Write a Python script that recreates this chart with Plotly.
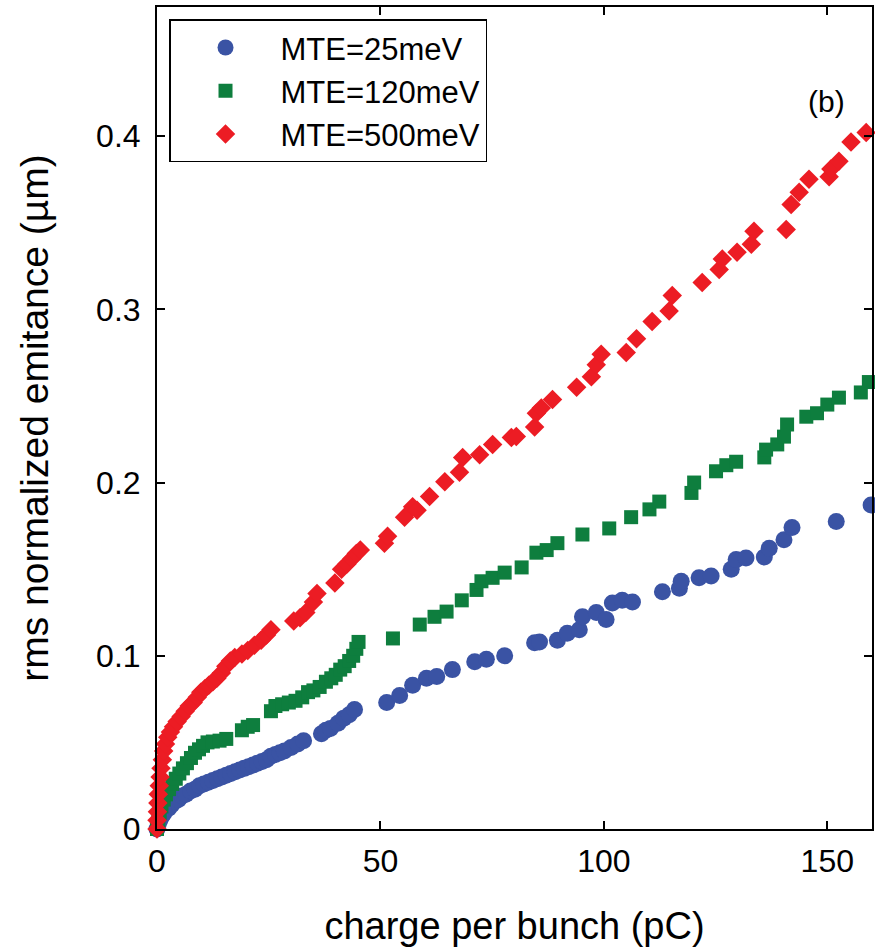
import plotly.graph_objects as go

# ---- data ----
blue_x = [0, 0.3, 0.6, 1.0, 1.5, 2.0, 2.6, 3.3, 4.0, 4.8, 5.6, 6.5, 7.5, 8.5, 9.5, 10.5, 11.5, 12.5, 13.5, 14.5,
          15.5, 16.5, 17.5, 18.5, 19.5, 20.5, 21.5, 22.5, 23.5, 24.5, 25.5, 26.5, 27.5, 28.5, 30.0, 31.5, 32.8,
          36.8, 37.8, 38.8, 40.5, 41.8, 43.0, 44.2, 51.4, 54.3, 57.2, 60.3, 62.6, 66.1, 71.1, 73.7, 77.8, 84.5,
          85.6, 89.6, 91.8, 94.5, 95.2, 98.3, 100.5, 101.9, 104.1, 106.4, 113.1, 116.9, 117.3, 121.3, 124.0,
          128.5, 129.6, 131.8, 135.9, 137.0, 140.3, 142.1, 152.0, 159.8]
blue_y = [0, 0.003, 0.005, 0.007, 0.009, 0.011, 0.012, 0.014, 0.016, 0.017, 0.019, 0.020, 0.022, 0.023, 0.025,
          0.026, 0.027, 0.028, 0.029, 0.030, 0.031, 0.032, 0.033, 0.034, 0.035, 0.036, 0.037, 0.038, 0.039,
          0.040, 0.042, 0.043, 0.044, 0.045, 0.047, 0.049, 0.051, 0.055, 0.057, 0.058, 0.061, 0.064, 0.066,
          0.069, 0.073, 0.077, 0.083, 0.087, 0.088, 0.092, 0.0965, 0.098, 0.100, 0.1075, 0.108, 0.109, 0.113,
          0.115, 0.1225, 0.125, 0.121, 0.1305, 0.132, 0.131, 0.137, 0.139, 0.143, 0.145, 0.146, 0.150, 0.1555,
          0.1565, 0.157, 0.162, 0.167, 0.174, 0.1775, 0.187]

green_x = [0, 0.3, 0.6, 1.0, 1.5, 2.0, 2.7, 3.4, 4.2, 5.0, 5.8, 6.7, 7.6, 8.5, 9.4, 10.3, 11.3, 12.5, 14.0,
           15.5, 19.0, 20.3, 21.5, 25.5, 26.5, 28.0, 29.5, 31.0, 32.5, 33.8, 35.0, 36.4, 37.8, 39.0, 40.0,
           41.0, 42.0, 43.0, 43.9, 44.6, 45.1, 52.8, 58.8, 62.1, 64.8, 68.2, 71.5, 72.6, 75.1, 77.8, 81.6,
           84.9, 87.2, 89.6, 95.2, 101.2, 106.1, 110.2, 112.4, 119.6, 120.2, 125.1, 127.4, 129.6, 135.9,
           136.3, 138.8, 140.3, 141.0, 145.3, 147.7, 150.0, 152.6, 157.5, 159.3]
green_y = [0, 0.005, 0.009, 0.013, 0.017, 0.020, 0.023, 0.026, 0.029, 0.032, 0.035, 0.038, 0.041, 0.044,
           0.046, 0.048, 0.050, 0.0505, 0.051, 0.052, 0.057, 0.059, 0.060, 0.068, 0.071, 0.072, 0.073, 0.074,
           0.076, 0.079, 0.080, 0.082, 0.085, 0.087, 0.089, 0.092, 0.094, 0.097, 0.100, 0.104, 0.108, 0.110,
           0.118, 0.1225, 0.1255, 0.132, 0.138, 0.143, 0.145, 0.148, 0.151, 0.1595, 0.161, 0.165, 0.170,
           0.1735, 0.180, 0.1845, 0.189, 0.194, 0.200, 0.2065, 0.210, 0.212, 0.2145, 0.219, 0.222, 0.2265,
           0.2335, 0.238, 0.240, 0.245, 0.249, 0.252, 0.258]

red_x = [0, 0, 0.1, 0.2, 0.3, 0.5, 0.7, 0.9, 1.2, 1.5, 1.9, 2.4, 3.0, 3.7, 4.5, 5.4, 6.3, 7.2, 8.1, 9.0, 9.8,
         10.7, 11.6, 12.5, 13.4, 14.4, 15.4, 16.4, 17.4, 19.0, 20.3, 21.8, 23.3, 24.5, 25.5, 30.6, 32.0, 33.3,
         35.0, 35.8, 39.8, 41.3, 42.5, 43.6, 44.6, 45.5, 50.9, 51.6, 55.4, 57.2, 58.2, 61.0, 64.4, 67.7, 68.4,
         72.2, 75.1, 79.3, 80.4, 84.5, 84.9, 86.0, 88.5, 93.9, 97.2, 98.3, 99.4, 105.0, 107.3, 110.8, 114.6,
         115.3, 122.0, 125.8, 126.5, 129.8, 133.0, 133.6, 140.8, 141.9, 143.7, 145.9, 150.4, 150.8, 152.6,
         155.3, 158.7]
red_y = [0, 0.005, 0.010, 0.015, 0.020, 0.025, 0.030, 0.035, 0.040, 0.045, 0.049, 0.053, 0.056, 0.059, 0.062,
         0.065, 0.068, 0.071, 0.073, 0.076, 0.079, 0.081, 0.083, 0.085, 0.087, 0.090, 0.094, 0.097, 0.099,
         0.101, 0.103, 0.106, 0.109, 0.112, 0.115, 0.120, 0.122, 0.125, 0.131, 0.136, 0.142, 0.150, 0.153,
         0.156, 0.159, 0.161, 0.165, 0.169, 0.180, 0.186, 0.184, 0.192, 0.2005, 0.206, 0.2145, 0.216, 0.222,
         0.226, 0.2265, 0.232, 0.240, 0.243, 0.248, 0.255, 0.261, 0.268, 0.274, 0.275, 0.283, 0.293, 0.299,
         0.308, 0.3155, 0.323, 0.329, 0.333, 0.3375, 0.345, 0.346, 0.3605, 0.3675, 0.375, 0.3765, 0.381,
         0.3855, 0.3965, 0.402]

series_names = ["MTE=25meV", "MTE=120meV", "MTE=500meV"]
x_ticks = [0, 50, 100, 150]
y_ticks = [0, 0.1, 0.2, 0.3, 0.4]
y_ticktext = ["0", "0.1", "0.2", "0.3", "0.4"]

FONT = "Liberation Sans, Arial, sans-serif"

fig = go.Figure()
fig.add_trace(go.Scatter(x=blue_x, y=blue_y, mode="markers", name=series_names[0],
                         marker=dict(symbol="circle", size=17, color="#3A53A4"), cliponaxis=False))
fig.add_trace(go.Scatter(x=green_x, y=green_y, mode="markers", name=series_names[1],
                         marker=dict(symbol="square", size=14, color="#0E7E3E"), cliponaxis=False))
fig.add_trace(go.Scatter(x=red_x, y=red_y, mode="markers", name=series_names[2],
                         marker=dict(symbol="diamond", size=15, color="#EC1C24"), cliponaxis=False))

axis_common = dict(showline=True, linecolor="black", linewidth=2, mirror="ticks",
                   ticks="inside", ticklen=8, tickwidth=1.5, tickcolor="black",
                   showgrid=False, zeroline=False,
                   tickfont=dict(family=FONT, size=32, color="black"))

fig.update_xaxes(range=[0, 160], tickvals=x_ticks, ticklabelstandoff=3,
                 title=dict(text="charge per bunch (pC)", font=dict(family=FONT, size=38, color="black"),
                            standoff=36),
                 **axis_common)
fig.update_yaxes(range=[0, 0.4745], tickvals=y_ticks, ticktext=y_ticktext, ticklabelstandoff=8,
                 title=dict(text="rms normalized emitance (µm)", font=dict(family=FONT, size=39, color="black"),
                            standoff=35),
                 **axis_common)

fig.add_annotation(text="(b)", x=0.965, y=0.907, xref="paper", yref="paper", showarrow=False,
                   font=dict(family=FONT, size=30, color="black"))

fig.update_layout(
    width=875, height=947,
    margin=dict(l=157, r=3, t=7, b=118, autoexpand=False),
    plot_bgcolor="white", paper_bgcolor="white",
    font=dict(family=FONT, color="black"),
    legend=dict(x=0.0168, y=0.985, xanchor="left", yanchor="top",
                bordercolor="black", borderwidth=1.5, bgcolor="white",
                font=dict(family=FONT, size=31, color="black"),
                itemwidth=100, tracegroupgap=0),
    showlegend=True,
)

fig.write_html("out.html", config={"displayModeBar": False},
               post_script="document.body.style.margin='0';document.body.style.overflow='hidden';")
